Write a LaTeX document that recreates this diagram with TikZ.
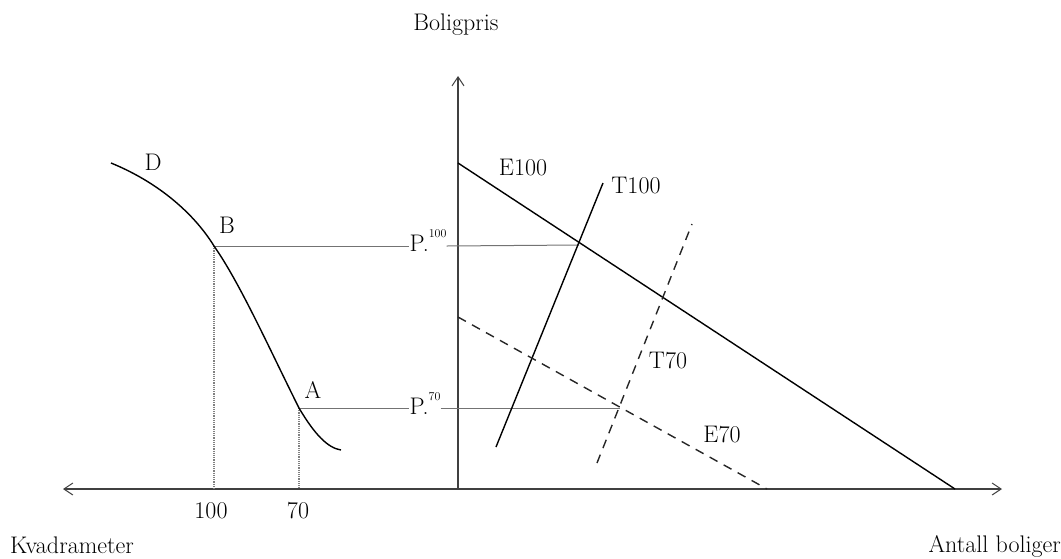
\documentclass[tikz,border=0pt]{standalone}
\usetikzlibrary{arrows.meta}
\tikzset{
  lbl/.style={font=\fontsize{24}{28}\selectfont, anchor=base, inner sep=0pt},
  axis/.style={draw=black!75, line width=1.1pt},
  curve/.style={draw=black, line width=1.4pt},
  dcurve/.style={draw=black!85, line width=1.4pt, dash pattern=on 9pt off 7pt},
  guide/.style={draw=black!50, line width=1.2pt, densely dotted},
  hguide/.style={draw=black!55, line width=1pt},
  tip/.style={-{Straight Barb[length=9pt,width=12pt,line width=1pt]}},
}
\newcommand{\supr}[1]{\raisebox{0.55em}{\fontsize{12}{12}\selectfont #1}}
\begin{document}
\begin{tikzpicture}[x=1pt,y=-1pt]
\useasboundingbox (0,0) rectangle (1061,558);
% key coordinates
\coordinate (O) at (458,489);
\coordinate (XL) at (63,489);
\coordinate (XR) at (1002,489);
\coordinate (YT) at (458,76);
\coordinate (E1a) at (458,163);
\coordinate (E1b) at (955,489);
\coordinate (E7a) at (458,317);
\coordinate (E7b) at (767,489);
\coordinate (T1a) at (496,447);
\coordinate (T1b) at (603,183);
\coordinate (T7a) at (597,463);
\coordinate (T7b) at (692,224);
\coordinate (X1) at (579,245);
\coordinate (X2) at (620,408);
% curve D
\coordinate (D0) at (111,163);
\coordinate (B) at (214,246);
\coordinate (A) at (299,408);
\coordinate (D1) at (341,450);
% axes
\draw[axis, tip] (O) -- (XL);
\draw[axis, tip] (O) -- (XR);
\draw[axis, tip] (O) -- (YT);
% guides
\draw[guide] (B) -- (B |- O);
\draw[guide] (A) -- (A |- O);
\node[lbl] (p100) at (428,251) {P.\supr{100}};
\node[lbl] (p70) at (425,414) {P.\supr{70}};
\draw[hguide] (B) -- (p100.west |- B);
\draw[hguide] (p100.east |- B) -- (X1);
\draw[hguide] (A) -- (p70.west |- A);
\draw[hguide] (p70.east |- A) -- (X2);
% curve
\draw[curve] (D0) .. controls (160,183) and (195,215) .. (B)
  .. controls (240,283) and (270,350) .. (A)
  .. controls (315,435) and (328,448) .. (D1);
% lines
\draw[curve] (E1a) -- (E1b);
\draw[curve] (T1a) -- (T1b);
\draw[dcurve] (E7a) -- (E7b);
\draw[dcurve] (T7a) -- (T7b);
% labels
\node[lbl] (lD) at (153,170) {D};
\node[lbl] (lB) at (227,233) {B};
\node[lbl] (lA) at (313,398) {A};
\node[lbl] (lE100) at (523,175) {E100};
\node[lbl] (lT100) at (636,193) {T100};
\node[lbl] (lT70) at (668,368) {T70};
\node[lbl] (lE70) at (722,442) {E70};
\node[lbl] (l100) at (211,518) {100};
\node[lbl] (l70) at (298,518) {70};
\node[lbl] (ly) at (456,30) {Boligpris};
\node[lbl, anchor=base west] (lx1) at (10,553) {Kvadrameter};
\node[lbl, anchor=base east] (lx2) at (1061,552) {Antall boliger};
\end{tikzpicture}
\end{document}
